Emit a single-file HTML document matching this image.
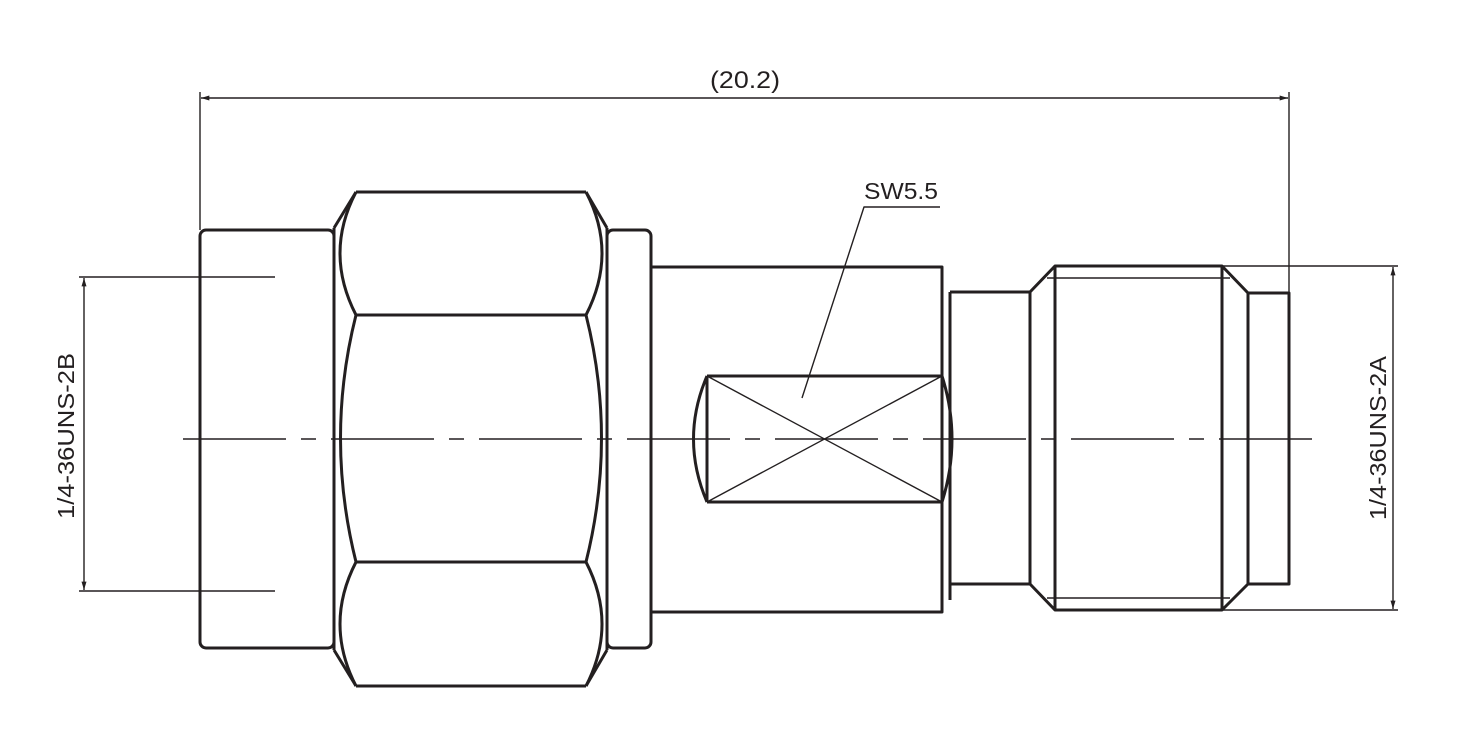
<!DOCTYPE html>
<html><head><meta charset="utf-8"><style>
html,body{margin:0;padding:0;background:#fff;}
svg{display:block;}
text{font-family:"Liberation Sans",sans-serif;fill:#231f20;}
</style></head><body>
<svg width="1458" height="748" viewBox="0 0 1458 748" xmlns="http://www.w3.org/2000/svg">
<defs>
<marker id="a" viewBox="0 0 10 6" refX="10" refY="3" markerWidth="12" markerHeight="5" orient="auto-start-reverse" markerUnits="userSpaceOnUse"><path d="M0,0 L10,3 L0,6 z" fill="#231f20"/></marker>
</defs>
<g stroke="#231f20" fill="none" stroke-linejoin="round">
<g stroke-width="1.4">
<line x1="200" y1="92" x2="200" y2="230"/>
<line x1="1289" y1="92" x2="1289" y2="293"/>
<line x1="201" y1="98" x2="1288" y2="98" marker-start="url(#a)" marker-end="url(#a)"/>
<line x1="79" y1="277" x2="275" y2="277"/>
<line x1="79" y1="591" x2="275" y2="591"/>
<line x1="84" y1="278" x2="84" y2="590" marker-start="url(#a)" marker-end="url(#a)"/>
<line x1="1222" y1="266" x2="1398" y2="266"/>
<line x1="1222" y1="610" x2="1398" y2="610"/>
<line x1="1393" y1="267" x2="1393" y2="609" marker-start="url(#a)" marker-end="url(#a)"/>
<line x1="183" y1="439" x2="1312" y2="439" stroke-dasharray="103 15 15 15"/>
<line x1="707" y1="376" x2="942" y2="502"/>
<line x1="707" y1="502" x2="942" y2="376"/>
<polyline points="802,398 864,207 940,207"/>
<line x1="1047" y1="278" x2="1230" y2="278"/>
<line x1="1047" y1="598" x2="1230" y2="598"/>
</g>
<g stroke-width="3">
<rect x="200" y="230" width="134" height="418" rx="6"/>
<rect x="607" y="230" width="44" height="418" rx="6"/>
<line x1="334" y1="228" x2="334" y2="650"/>
<line x1="607" y1="228" x2="607" y2="650"/>
<line x1="356" y1="192" x2="586" y2="192"/>
<line x1="356" y1="686" x2="586" y2="686"/>
<line x1="356" y1="315" x2="586" y2="315"/>
<line x1="356" y1="562" x2="586" y2="562"/>
<path d="M356,192 L334,228"/><path d="M586,192 L607,228"/>
<path d="M356,686 L334,650"/><path d="M586,686 L607,650"/>
<path d="M356,192 Q324,253 356,315"/>
<path d="M586,192 Q618,253 586,315"/>
<path d="M356,315 Q325,438 356,562"/>
<path d="M586,315 Q617,438 586,562"/>
<path d="M356,562 Q324,624 356,686"/>
<path d="M586,562 Q618,624 586,686"/>
<polyline points="652,267 942,267 942,612 652,612"/>
<line x1="950" y1="292" x2="950" y2="600"/>
<polyline points="707,376 942,376"/>
<polyline points="707,502 942,502"/>
<line x1="707" y1="376" x2="707" y2="502"/>
<path d="M707,376 Q680,439 707,502"/>
<path d="M942,376 Q962,439 942,502"/>
<line x1="950" y1="292" x2="1030" y2="292"/>
<line x1="950" y1="584" x2="1030" y2="584"/>
<line x1="1030" y1="292" x2="1030" y2="584"/>
<polyline points="1030,292 1055,266 1222,266 1248,293 1248,584 1222,610 1055,610 1030,584"/>
<line x1="1055" y1="266" x2="1055" y2="610"/>
<line x1="1222" y1="266" x2="1222" y2="610"/>
<polyline points="1248,293 1289,293 1289,584 1248,584"/>
</g>
</g>
<text x="745" y="88" font-size="24" text-anchor="middle" textLength="70" lengthAdjust="spacingAndGlyphs">(20.2)</text>
<text x="864" y="199" font-size="23" textLength="74" lengthAdjust="spacingAndGlyphs">SW5.5</text>
<text transform="translate(74,436) rotate(-90)" font-size="23" text-anchor="middle" textLength="166" lengthAdjust="spacingAndGlyphs">1/4-36UNS-2B</text>
<text transform="translate(1386,438) rotate(-90)" font-size="23" text-anchor="middle" textLength="164" lengthAdjust="spacingAndGlyphs">1/4-36UNS-2A</text>
</svg>
</body></html>
